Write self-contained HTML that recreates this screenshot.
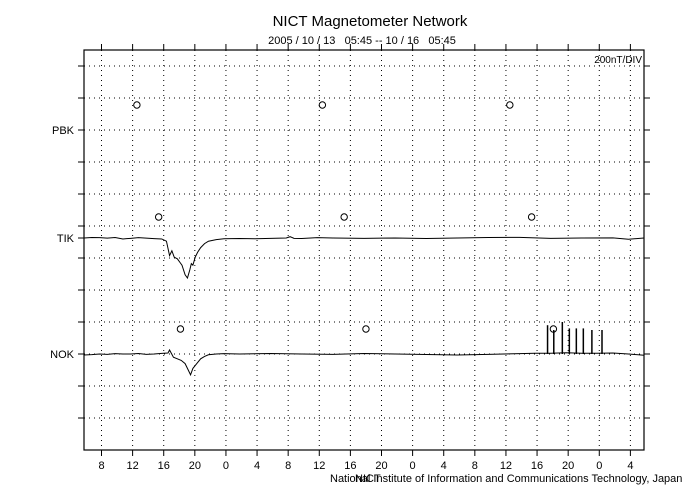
<!DOCTYPE html>
<html><head><meta charset="utf-8"><style>
body{margin:0;background:#fff;width:700px;height:500px;overflow:hidden}
svg{display:block;font-family:"Liberation Sans",sans-serif}
</style></head><body>
<svg id="c" width="700" height="500">
<text x="370" y="26" text-anchor="middle" font-size="15">NICT Magnetometer Network</text>
<text x="362" y="44" text-anchor="middle" font-size="11" xml:space="preserve">2005 / 10 / 13   05:45 -- 10 / 16   05:45</text>
<text x="642" y="63" text-anchor="end" font-size="10">200nT/DIV</text>
<text x="330" y="482" font-size="11">National Institute of Information and Communications Technology, Japan</text>
<text x="355" y="482" font-size="11">NICT</text>
<g id="grid"></g><g id="series"></g>
<rect x="84" y="50" width="560" height="400" fill="none" stroke="#000" stroke-width="1.2"/>
</svg>
<script>
const stations=["PBK","TIK","NOK"];
const stationBase=[130,238,354];
const markerRowY=[105,217,329];
const xTickLabels=["8","12","16","20","0","4","8","12","16","20","0","4","8","12","16","20","0","4"];
const markerHours=[6.8,30.65,54.75];
const tikHours=[0,1,2,3,4,5,6,7,8,9,10,10.6,11,11.3,11.6,12,12.3,12.6,13,13.3,13.6,13.8,14,14.3,14.6,15,15.5,16,17,18,20,22,24,26,26.5,27,28,30,32,36,40,44,48,52,56,60,64,68,70,72];
const tikVals=[0,3,2,-1,3,-6,-2,2,-1,-4,-6,-20,-110,-80,-120,-130,-150,-170,-230,-250,-200,-160,-170,-120,-90,-60,-35,-20,-10,-5,-3,-5,-2,0,8,-2,-3,2,0,-2,0,-3,0,3,4,-2,0,1,-8,0];
const nokHours=[0,1,2,3,4,5,6,7,8,9,10,10.8,11,11.5,12,12.5,13,13.4,13.7,14,14.5,15,15.5,16,17,18,20,24,28,32,36,40,44,48,52,56,58,60,62,64,66,68,70,72];
const nokVals=[-6,-4,0,-2,2,0,0,3,-2,0,4,6,25,-20,-30,-40,-60,-100,-130,-90,-60,-30,-15,-5,0,2,0,3,0,-2,3,0,-3,-6,-2,2,5,5,8,5,5,6,0,-8];
const spikeHours=[59.6,60.4,61.5,62.4,63.3,64.2,65.3,66.6];
const spikeVals=[180,150,200,160,160,160,150,150];
const X0=84,PXH=560/72,NT=32/200;
const xs=h=>X0+h*PXH, ys=(i,v)=>stationBase[i]-v*NT;
const NS="http://www.w3.org/2000/svg";
const G=document.getElementById("grid"),S=document.getElementById("series");
function mk(p,t,a){const e=document.createElementNS(NS,t);for(const k in a)e.setAttribute(k,a[k]);p.appendChild(e);return e;}
for(let k=0;k<12;k++){const y=66+32*k;
 const l=mk(G,"line",{x1:84,x2:644,y1:y,y2:y,stroke:"#000","stroke-dasharray":"1 4","stroke-width":1});
 
 mk(G,"line",{x1:78,x2:84,y1:y,y2:y,stroke:"#000"});mk(G,"line",{x1:644,x2:650,y1:y,y2:y,stroke:"#000"});}
xTickLabels.forEach((lab,i)=>{const x=xs(2.25+4*i);
 const l=mk(G,"line",{x1:x,x2:x,y1:50,y2:450,stroke:"#000","stroke-dasharray":"1 4"});
 
 mk(G,"line",{x1:x,x2:x,y1:44,y2:50,stroke:"#000"});mk(G,"line",{x1:x,x2:x,y1:450,y2:456,stroke:"#000"});
 const t=mk(G,"text",{x:x,y:469,"text-anchor":"middle","font-size":11});t.textContent=lab;
 });
stations.forEach((s,i)=>{const t=mk(G,"text",{x:74,y:stationBase[i]+4,"text-anchor":"end","font-size":11});t.textContent=s;
 
 mk(G,"line",{x1:78,x2:84,y1:stationBase[i],y2:stationBase[i],stroke:"#000"});
 markerHours.forEach(h=>{const c=mk(S,"circle",{cx:xs(h+2.8*i),cy:markerRowY[i],r:3.2,fill:"none",stroke:"#000"});
  });});
function line(hs,vs,i,name){const p=mk(S,"polyline",{points:hs.map((h,k)=>xs(h)+","+ys(i,vs[k])).join(" "),fill:"none",stroke:"#000","stroke-width":1});
 }
line(tikHours,tikVals,1,"tik-series");line(nokHours,nokVals,2,"nok-series");
spikeHours.forEach((h,k)=>{const l=mk(S,"line",{x1:xs(h),x2:xs(h),y1:ys(2,0),y2:ys(2,spikeVals[k]),stroke:"#000","stroke-width":1.5});
 });
</script>
</body></html>
